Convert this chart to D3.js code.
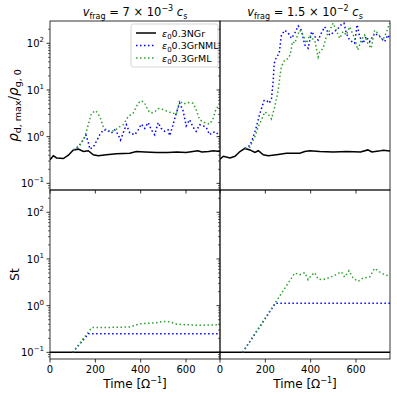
<!doctype html>
<html>
  <head>
    <meta charset='utf-8'>
    <title>Density and Stokes number</title>
    <style>
      body { margin: 0; background: #fff; }
      text { font-family: 'DejaVu Sans', sans-serif; fill: #000; }
    </style>
  </head>
  <body>
    <svg width='397' height='396'></svg>

  <script src='https://d3js.org/d3.v7.min.js'></script>
  <script>
// Values, [time, value]
var rhoNGrA = [[0,0.32],[15,0.39],[29,0.35],[59,0.34],[81,0.4],[103,0.52],[125,0.54],[147,0.48],[169,0.5],[191,0.41],[213,0.39],[249,0.41],[293,0.43],[352,0.44],[381,0.48],[420,0.47],[470,0.46],[520,0.46],[560,0.47],[600,0.46],[652,0.5],[670,0.47],[700,0.48],[720,0.5],[750,0.48]];
var rhoNMLA = [[103,0.52],[125,0.6],[147,0.85],[158,1.1],[169,0.75],[176,0.54],[191,0.6],[205,0.8],[220,1.1],[235,1.39],[249,1.39],[271,1.2],[286,1.4],[301,1.1],[311,0.85],[323,1.2],[337,1.8],[352,1.2],[374,1.1],[389,1.4],[403,1.85],[418,1.5],[433,2],[447,1.4],[462,1.1],[477,2],[491,1.5],[506,1.3],[521,1.4],[528,1.05],[543,1.8],[557,3.2],[572,5.2],[587,3.6],[601,1.7],[616,2.3],[631,1.6],[645,1.3],[660,1.8],[675,1.7],[689,1.6],[704,1.1],[719,1.25],[733,1.25],[748,1.0]];
var rhoMLA = [[103,0.52],[132,0.66],[154,1],[169,1.8],[183,3.2],[202,3.6],[220,2.7],[235,1.64],[249,1.39],[271,1.28],[293,1.45],[308,1.64],[323,1.8],[345,2.7],[367,3.2],[389,5.2],[403,5.9],[418,5.2],[433,3.6],[447,3.2],[462,3.4],[477,4],[499,3.8],[521,3.4],[543,3.2],[557,3.0],[572,6],[587,5],[609,5.4],[631,5.2],[645,3.8],[660,2.3],[682,2.0],[704,1.85],[719,2.4],[733,4],[748,4.7]];

var rhoNGrB = [[0,0.33],[15,0.38],[44,0.35],[66,0.38],[88,0.48],[110,0.56],[132,0.52],[154,0.46],[169,0.5],[191,0.41],[213,0.39],[249,0.41],[293,0.44],[352,0.44],[374,0.48],[396,0.5],[440,0.48],[500,0.47],[560,0.48],[620,0.47],[652,0.52],[670,0.47],[700,0.49],[720,0.51],[750,0.49]];
var rhoNMLB = [[110,0.56],[132,0.65],[147,1],[161,1.64],[173,2.8],[183,4],[194,5.9],[205,6],[217,5.2],[227,6.5],[235,16],[239,37],[249,51],[261,60],[271,150],[286,190],[301,165],[315,128],[330,165],[345,235],[359,190],[374,92],[389,78],[404,178],[418,140],[433,117],[447,165],[462,225],[484,150],[506,178],[521,210],[535,250],[547,270],[557,165],[572,117],[594,100],[605,250],[616,140],[631,100],[645,140],[660,108],[682,165],[704,140],[726,108],[741,150],[748,128]];
var rhoMLB = [[110,0.56],[132,0.6],[154,1],[169,1.64],[183,2.3],[198,3.4],[213,3.0],[227,2.4],[242,4.4],[257,10],[264,19],[271,32],[286,44],[301,47],[311,60],[320,108],[330,100],[340,140],[352,190],[367,150],[381,100],[396,150],[403,128],[418,117],[433,51],[440,65],[455,78],[469,140],[484,190],[499,270],[513,190],[528,128],[543,178],[557,150],[572,225],[594,128],[608,72],[623,117],[638,150],[652,100],[667,78],[682,190],[696,165],[718,117],[733,165],[748,270]];

var stNGrA = [[0,0.1],[750,0.1]];
var stNMLA = [[100,0.1],[170,0.25],[750,0.25]];
var stMLA = [[100,0.1],[185,0.34],[250,0.34],[350,0.35],[400,0.41],[470,0.43],[500,0.46],[530,0.45],[560,0.4],[650,0.38],[750,0.39]];
var stNGrB = [[0,0.1],[750,0.1]];
var stNMLB = [[100,0.1],[245,1.13],[750,1.13]];
var stMLB = [[100,0.1],[330,5],[352,4.6],[374,5.1],[389,3.6],[403,4.5],[418,5.1],[433,3.7],[455,3.6],[477,3.9],[499,4.3],[535,5.3],[550,4.1],[569,5.6],[587,3.9],[609,3.3],[631,3.9],[660,4.1],[682,6.3],[704,5.3],[726,4.6],[748,4.3]];

var seriesNames = ['0.3NGr', '0.3GrNML', '0.3GrML'];
var xTicks = [0, 200, 400, 600];
var yTicks = [0.1, 1, 10, 100];
var tMax = 750;
var yDomain = [0.072, 300];

var styles = [
  {color: '#000', dash: null},
  {color: '#0000ff', dash: '1.5,2.5'},
  {color: '#2ca02c', dash: '1.5,2.5'}
];

var svg = d3.select('svg');
var W = 170, H = 169;
var left0 = 50, top0 = 21;

var panels = [
  {col: 0, row: 0, data: [rhoNGrA, rhoNMLA, rhoMLA]},
  {col: 1, row: 0, data: [rhoNGrB, rhoNMLB, rhoMLB]},
  {col: 0, row: 1, data: [stNGrA, stNMLA, stMLA]},
  {col: 1, row: 1, data: [stNGrB, stNMLB, stMLB]}
];

var x = d3.scaleLinear().domain([0, tMax]).range([0, W]);
var y = d3.scaleLog().domain(yDomain).range([H, 0]);

// minor log ticks
var minor = [];
[0.01, 0.1, 1, 10, 100].forEach(function(d) {
  for (var k = 2; k < 10; k++) {
    var v = d * k;
    if (v > yDomain[0] && v < yDomain[1]) minor.push(v);
  }
});

function pow10(sel, e) {
  sel.append('tspan').text('10');
  sel.append('tspan').attr('dy', -5).attr('font-size', 7).text(e == -1 ? '\u22121' : e);
}

panels.forEach(function(p, i) {
  var g = svg.append('g')
    .attr('transform', 'translate(' + (left0 + p.col * W) + ',' + (top0 + p.row * H) + ')');

  g.append('clipPath').attr('id', 'clip' + i)
    .append('rect').attr('width', W).attr('height', H);

  var line = d3.line().x(function(d) { return x(d[0]); }).y(function(d) { return y(d[1]); });

  p.data.forEach(function(s, j) {
    g.append('path')
      .attr('d', line(s))
      .attr('clip-path', 'url(#clip' + i + ')')
      .attr('fill', 'none')
      .attr('stroke', styles[j].color)
      .attr('stroke-width', 1.5)
      .attr('stroke-dasharray', styles[j].dash);
  });

  // ticks
  xTicks.forEach(function(t) {
    g.append('line').attr('x1', x(t)).attr('x2', x(t)).attr('y1', H).attr('y2', H + 3.5)
      .attr('stroke', '#000').attr('stroke-width', 0.8);
  });
  yTicks.forEach(function(t) {
    g.append('line').attr('x1', 0).attr('x2', -3.5).attr('y1', y(t)).attr('y2', y(t))
      .attr('stroke', '#000').attr('stroke-width', 0.8);
  });
  minor.forEach(function(t) {
    g.append('line').attr('x1', 0).attr('x2', -2).attr('y1', y(t)).attr('y2', y(t))
      .attr('stroke', '#000').attr('stroke-width', 0.6);
  });

  g.append('rect').attr('width', W).attr('height', H)
    .attr('fill', 'none').attr('stroke', '#000').attr('stroke-width', 0.8);

  if (p.row == 1) {
    xTicks.forEach(function(t) {
      g.append('text').attr('x', x(t)).attr('y', H + 14).attr('text-anchor', 'middle')
        .attr('font-size', 10).text(t);
    });
    g.append('text').attr('x', W / 2).attr('y', H + 29).attr('text-anchor', 'middle')
      .attr('font-size', 12)
      .call(function(s) {
        s.append('tspan').text('Time [\u03a9');
        s.append('tspan').attr('dy', -5).attr('font-size', 8).text('\u22121');
        s.append('tspan').attr('dy', 5).text(']');
      });
  }
  if (p.col == 0) {
    yTicks.forEach(function(t) {
      var e = Math.round(Math.log10(t));
      g.append('text').attr('x', -6).attr('y', y(t) + 4).attr('text-anchor', 'end')
        .attr('font-size', 10).call(pow10, e);
    });
  }
});

// titles
function title(cx, a, e) {
  var t = svg.append('text').attr('x', cx).attr('y', 16).attr('text-anchor', 'middle').attr('font-size', 11.5);
  t.append('tspan').attr('font-style', 'italic').text('v');
  t.append('tspan').attr('dy', 3).attr('font-size', 8).text('frag');
  t.append('tspan').attr('dy', -3).text(' = ' + a + ' \u00d7 10');
  t.append('tspan').attr('dy', -5).attr('font-size', 8).text('\u2212' + e);
  t.append('tspan').attr('dy', 5).attr('font-style', 'italic').text(' c');
  t.append('tspan').attr('dy', 3).attr('font-size', 8).text('s');
}
title(left0 + W / 2, '7', '3');
title(left0 + W * 1.5, '1.5', '2');

// y labels
var yl = svg.append('text').attr('transform', 'translate(18,' + (top0 + H / 2) + ') rotate(-90)')
  .attr('text-anchor', 'middle').attr('font-size', 13.5);
yl.append('tspan').attr('font-style', 'italic').text('\u03c1');
yl.append('tspan').attr('dy', 3).attr('font-size', 9.5).text('d, max');
yl.append('tspan').attr('dy', -3).text('/');
yl.append('tspan').attr('font-style', 'italic').text('\u03c1');
yl.append('tspan').attr('dy', 3).attr('font-size', 9.5).text('g, 0');

svg.append('text').attr('transform', 'translate(19,' + (top0 + H * 1.5) + ') rotate(-90)')
  .attr('text-anchor', 'middle').attr('font-size', 12).text('St');

// legend
var lg = svg.append('g').attr('transform', 'translate(131,24)');
lg.append('rect').attr('width', 87).attr('height', 43).attr('rx', 2)
  .attr('fill', '#fff').attr('fill-opacity', 0.8).attr('stroke', '#ccc').attr('stroke-width', 0.8);
seriesNames.forEach(function(n, j) {
  var yy = 9 + j * 12.5;
  lg.append('line').attr('x1', 5).attr('x2', 25).attr('y1', yy).attr('y2', yy)
    .attr('stroke', styles[j].color).attr('stroke-width', 1.5)
    .attr('stroke-dasharray', styles[j].dash);
  var t = lg.append('text').attr('x', 31).attr('y', yy + 3.5).attr('font-size', 9.5);
  t.append('tspan').attr('font-style', 'italic').text('\u03b5');
  t.append('tspan').attr('dy', 2.5).attr('font-size', 7).text('0');
  t.append('tspan').attr('dy', -2.5).text(n);
});
  </script>
  </body>
</html>
